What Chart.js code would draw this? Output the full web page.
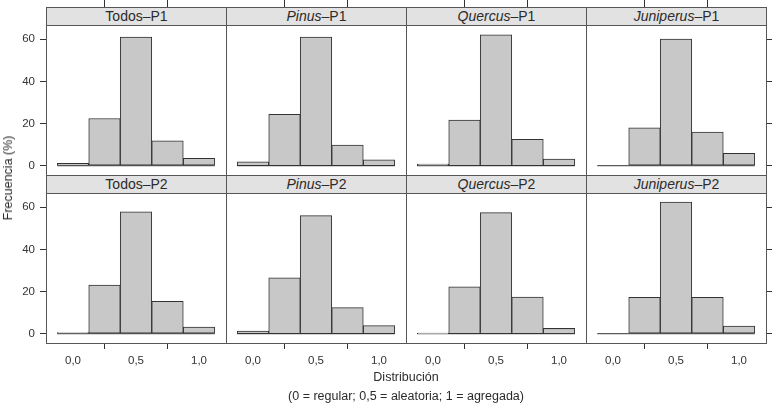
<!DOCTYPE html>
<html>
<head>
<meta charset="utf-8">
<script src="https://cdn.jsdelivr.net/npm/chart.js@4.4.0/dist/chart.umd.min.js"></script>
<style>
  body { margin: 0; background: #fff; }
  #wrap { position: relative; width: 774px; height: 403px; font-family: "Liberation Sans", Arial, sans-serif; color: #2b2b2b; }
  canvas { position: absolute; }
  .strip { position: absolute; box-sizing: border-box; border: 1px solid #555; background: #e2e2e2;
           font-size: 14px; line-height: 17px; text-align: center; }
  .frame { position: absolute; box-sizing: border-box; border: 1px solid #555; pointer-events: none; }
  .lbl { position: absolute; font-size: 12.5px; white-space: nowrap; }
</style>
</head>
<body>
<div id="wrap"></div>
<script>
// bins of the histogram (centres), the baseline ends, tick labels
var binCenters = [0, 0.25, 0.5, 0.75, 1.0];
var baseEnds = [-0.125, 1.125];
var xTicks = [0, 0.5, 1];
var xTickLabels = ['0,0', '0,5', '1,0'];
var yTicks = [0, 20, 40, 60];

// panel names
var genus = ['Todos', 'Pinus', 'Quercus', 'Juniperus'];
var genusItalic = [false, true, true, true];
var periods = ['P1', 'P2'];

// frecuencia (%) per bin
var todosP1 = [1.1, 22.4, 61, 11.8, 3.5];
var pinusP1 = [1.9, 24.3, 61, 9.8, 2.8];
var quercusP1 = [0.8, 21.6, 62, 12.5, 3.1];
var juniperusP1 = [0, 18, 60, 16, 5.9];
var todosP2 = [0.5, 23, 57.8, 15.4, 3.2];
var pinusP2 = [1.3, 26.5, 56, 12.4, 3.8];
var quercusP2 = [0.3, 22.2, 57.4, 17.4, 2.5];
var juniperusP2 = [0, 17.3, 62.4, 17.3, 3.6];

var series = [
  [todosP1, pinusP1, quercusP1, juniperusP1],
  [todosP2, pinusP2, quercusP2, juniperusP2]
];

var wrap = document.getElementById('wrap');
var LEFT = 46, PW = 180, PH = 150, SH = 18;
var rowTop = [7, 175];   // top of strip per row
var ink = '#333';

function addDiv(cls, l, t, w, h, html) {
  var d = document.createElement('div');
  d.className = cls;
  d.style.left = l + 'px'; d.style.top = t + 'px';
  if (w != null) d.style.width = w + 'px';
  if (h != null) d.style.height = h + 'px';
  if (html) d.innerHTML = html;
  wrap.appendChild(d);
  return d;
}

function noPad(s) {
  s.paddingTop = 0; s.paddingBottom = 0; s.paddingLeft = 0; s.paddingRight = 0;
}

for (var r = 0; r < 2; r++) {
  for (var c = 0; c < 4; c++) {
    var px = LEFT + PW * c;
    var stripTop = rowTop[r];
    var plotTop = stripTop + SH;
    var leftAxis = (c == 0) ? LEFT : 0;
    var rightAxis = (c == 3) ? 8 : 0;
    var topAxis = (r == 0) ? plotTop : 0;   // ticks over the strip
    var botAxis = (r == 1) ? 32 : 0;

    var cv = document.createElement('canvas');
    var cw = leftAxis + PW + rightAxis;
    var ch = topAxis + PH + botAxis;
    cv.width = cw; cv.height = ch;
    cv.style.left = (px - leftAxis) + 'px';
    cv.style.top = (r == 0 ? 0 : plotTop) + 'px';
    wrap.appendChild(cv);

    var vals = series[r][c];
    var barData = binCenters.map(function (x, i) { return {x: x, y: vals[i]}; });
    var baseData = baseEnds.map(function (x) { return {x: x, y: 0}; });

    (function (leftAxis, rightAxis, topAxis, botAxis, r, c) {
      new Chart(cv, {
        type: 'bar',
        data: {
          datasets: [
            {
              type: 'line', data: baseData, borderColor: ink, borderWidth: 1,
              pointRadius: 0, order: 2
            },
            {
              data: barData, backgroundColor: '#c8c8c8', borderColor: ink, borderWidth: 1,
              borderSkipped: false, barPercentage: 1, categoryPercentage: 1, order: 1
            }
          ]
        },
        options: {
          responsive: false,
          animation: false,
          devicePixelRatio: 1,
          layout: { padding: 0 },
          plugins: { legend: { display: false }, tooltip: { enabled: false } },
          scales: {
            x: {
              type: 'linear',
              offset: false,
              position: r == 0 ? 'top' : 'bottom',
              display: true,
              min: -0.214, max: 1.214,
              afterBuildTicks: function (s) { s.ticks = xTicks.map(function (v) { return {value: v}; }); },
              afterFit: function (s) { s.height = r == 0 ? topAxis : botAxis; noPad(s); },
              border: { display: false },
              grid: { drawOnChartArea: false, drawTicks: true, tickLength: r == 0 ? topAxis : 6, color: ink, lineWidth: 1 },
              ticks: {
                display: r == 1, padding: 5, color: ink,
                font: { family: 'Liberation Sans', size: 11.5 },
                callback: function (v) { return xTickLabels[xTicks.indexOf(v)]; }
              }
            },
            y: {
              type: 'linear',
              position: c == 3 ? 'right' : 'left',
              display: c == 0 || c == 3,
              min: -4.4, max: 66.7,
              afterBuildTicks: function (s) { s.ticks = yTicks.map(function (v) { return {value: v}; }); },
              afterFit: function (s) { s.width = c == 0 ? leftAxis : rightAxis; noPad(s); },
              border: { display: false },
              grid: { drawOnChartArea: false, drawTicks: true, tickLength: 6, color: ink, lineWidth: 1 },
              ticks: {
                display: c == 0, padding: 5, color: ink,
                font: { family: 'Liberation Sans', size: 11.5 }
              }
            }
          }
        }
      });
    })(leftAxis, rightAxis, topAxis, botAxis, r, c);

    var name = genusItalic[c] ? '<i>' + genus[c] + '</i>' : genus[c];
    addDiv('strip', px, stripTop, PW + 1, SH + 1, name + '\u2013' + periods[r]);
    addDiv('frame', px, plotTop, PW + 1, PH + 1);
  }
}

// axis titles
var yl = addDiv('lbl', 0, 0, null, null, 'Frecuencia (%)');
yl.style.left = '8px'; yl.style.top = '178px';
yl.style.transform = 'translate(-50%, -50%) rotate(-90deg)';
var xl = addDiv('lbl', 0, 0, null, null, 'Distribución');
xl.style.left = '406px'; xl.style.top = '377px'; xl.style.transform = 'translate(-50%, -50%)';
var sub = addDiv('lbl', 0, 0, null, null, '(0 = regular; 0,5 = aleatoria; 1 = agregada)');
sub.style.left = '406px'; sub.style.top = '396px'; sub.style.transform = 'translate(-50%, -50%)';
</script>
</body>
</html>
